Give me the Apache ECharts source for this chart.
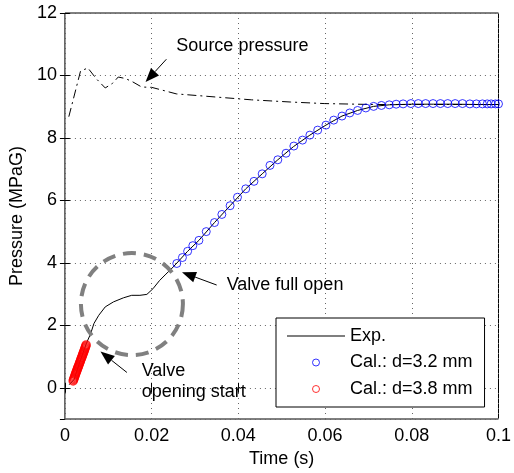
<!DOCTYPE html>
<html>
<head>
<meta charset="utf-8">
<script src="https://cdn.jsdelivr.net/npm/echarts@6/dist/echarts.min.js"></script>
<style>
  html, body { margin: 0; padding: 0; background: #fff; }
  #main { width: 514px; height: 473px; }
</style>
</head>
<body>
<div id="main"></div>
<script>
// experiment (solid line)
const expT = [0.0010, 0.0021, 0.0035, 0.0050, 0.0059, 0.0067, 0.0078, 0.0093, 0.0112, 0.0135, 0.0154, 0.0173, 0.0189, 0.0203, 0.0218, 0.0233, 0.0245, 0.0256, 0.0283, 0.0309, 0.0345, 0.0381, 0.0417, 0.0455, 0.0491, 0.0527, 0.0565, 0.0602, 0.0639, 0.0675, 0.0712, 0.0748, 0.0800, 0.0850, 0.0900, 0.0950, 0.1000]
const expP = [0.10, 0.26, 0.85, 1.44, 1.72, 2.06, 2.32, 2.59, 2.75, 2.88, 2.96, 2.96, 2.99, 3.17, 3.43, 3.64, 3.80, 3.96, 4.37, 4.72, 5.29, 5.83, 6.37, 6.85, 7.30, 7.72, 8.09, 8.41, 8.70, 8.88, 9.01, 9.06, 9.08, 9.08, 9.08, 9.07, 9.07]

// source pressure (dash-dot)
const srcT = [0.0009, 0.0036, 0.0053, 0.0072, 0.0093, 0.0110, 0.0123, 0.0140, 0.0157, 0.0177, 0.0200, 0.0257, 0.0348, 0.0430, 0.0520, 0.0598, 0.0710, 0.0800, 0.0900, 0.1000]
const srcP = [8.68, 10.14, 10.24, 9.90, 9.60, 9.75, 9.95, 9.90, 9.79, 9.63, 9.62, 9.41, 9.31, 9.22, 9.15, 9.10, 9.07, 9.07, 9.07, 9.07]

// Cal.: d=3.2 mm (blue circles)
const blueT = [0.0258, 0.0271, 0.0283, 0.0295, 0.0309, 0.0326, 0.0345, 0.0362, 0.0381, 0.0398, 0.0417, 0.0436, 0.0455, 0.0473, 0.0491, 0.0510, 0.0528, 0.0548, 0.0565, 0.0583, 0.0602, 0.0620, 0.0639, 0.0657, 0.0675, 0.0694, 0.0712, 0.0730, 0.0748, 0.0764, 0.0780, 0.0798, 0.0815, 0.0832, 0.0849, 0.0866, 0.0883, 0.0900, 0.0917, 0.0934, 0.0949, 0.0963, 0.0974, 0.0983, 0.0993, 0.1000]
const blueP = [3.98, 4.17, 4.37, 4.55, 4.72, 5.00, 5.29, 5.55, 5.83, 6.10, 6.37, 6.61, 6.85, 7.12, 7.30, 7.51, 7.74, 7.93, 8.09, 8.25, 8.41, 8.57, 8.70, 8.80, 8.88, 8.96, 9.01, 9.04, 9.06, 9.08, 9.09, 9.10, 9.10, 9.10, 9.10, 9.10, 9.10, 9.10, 9.10, 9.09, 9.09, 9.09, 9.09, 9.09, 9.09, 9.09]

// Cal.: d=3.8 mm (red circles)
const redT = [0.0019, 0.0020, 0.0021, 0.0022, 0.0023, 0.0024, 0.0025, 0.0026, 0.0027, 0.0028, 0.0029, 0.0030, 0.0031, 0.0032, 0.0033, 0.0034, 0.0035, 0.0036, 0.0037, 0.0038, 0.0039, 0.0040, 0.0041, 0.0042, 0.0043, 0.0044, 0.0045, 0.0046, 0.0047, 0.0048, 0.0049]
const redP = [0.22, 0.26, 0.30, 0.34, 0.38, 0.42, 0.46, 0.50, 0.53, 0.57, 0.61, 0.65, 0.68, 0.72, 0.76, 0.80, 0.83, 0.87, 0.91, 0.95, 0.98, 1.02, 1.06, 1.10, 1.13, 1.17, 1.21, 1.25, 1.29, 1.33, 1.37]

const xTicks = [0, 0.02, 0.04, 0.06, 0.08, 0.1]

const zip = (a, b) => a.map((v, i) => [v, b[i]])
const FONT = '"Liberation Sans", Arial, sans-serif'

const chart = echarts.init(document.getElementById('main'))

const tickStyle = { show: true, inside: true, length: 5, lineStyle: { color: '#000' } }
const gridLine = { show: true, lineStyle: { color: '#666', type: [1, 4], width: 1 } }

chart.setOption({
  animation: false,
  backgroundColor: '#fff',
  grid: { left: 64, right: 11, top: 13, bottom: 51, show: true, borderColor: '#000', borderWidth: 1 },
  xAxis: [
    {
      type: 'value', min: xTicks[0], max: xTicks[xTicks.length - 1], interval: 0.02,
      position: 'bottom',
      axisLine: { show: false },
      axisTick: tickStyle,
      axisLabel: { color: '#000', fontSize: 18, fontFamily: FONT, margin: 8 },
      splitLine: gridLine,
      name: 'Time (s)', nameLocation: 'middle', nameGap: 31,
      nameTextStyle: { color: '#000', fontSize: 18, fontFamily: FONT }
    },
    {
      type: 'value', min: 0, max: 0.1, interval: 0.02, position: 'top',
      axisLine: { show: false }, axisTick: tickStyle, axisLabel: { show: false }, splitLine: { show: false }
    }
  ],
  yAxis: [
    {
      type: 'value', min: -1, max: 12, splitNumber: 6,
      position: 'left',
      axisLine: { show: false },
      axisTick: tickStyle,
      axisLabel: { color: '#000', fontSize: 18, fontFamily: FONT, margin: 8, showMinLabel: false },
      splitLine: gridLine,
      name: 'Pressure (MPaG)', nameLocation: 'middle', nameGap: 34,
      nameTextStyle: { color: '#000', fontSize: 18, fontFamily: FONT }
    },
    {
      type: 'value', min: -1, max: 12, splitNumber: 6, position: 'right',
      axisLine: { show: false }, axisTick: tickStyle, axisLabel: { show: false }, splitLine: { show: false }
    }
  ],
  legend: {
    left: 276, top: 318, orient: 'vertical',
    backgroundColor: '#fff', borderColor: '#000', borderWidth: 1,
    padding: [9, 12, 9, 11],
    itemWidth: 58, itemHeight: 7, itemGap: 8.5,
    textStyle: { color: '#000', fontSize: 18, fontFamily: FONT, lineHeight: 18 },
    data: [
      { name: 'Exp.', icon: 'path://M0,0H58V1H0Z', itemStyle: { color: '#000', borderWidth: 0 } },
      { name: 'Cal.: d=3.2 mm', icon: 'circle', itemStyle: { color: 'rgba(0,0,0,0)', borderColor: '#0000ff', borderWidth: 1 } },
      { name: 'Cal.: d=3.8 mm', icon: 'circle', itemStyle: { color: 'rgba(0,0,0,0)', borderColor: '#ff0000', borderWidth: 1 } }
    ],
    z: 10
  },
  series: [
    {
      name: 'Source pressure', type: 'line', symbol: 'none',
      lineStyle: { color: '#000', width: 1, type: [9, 4, 2, 4] },
      data: zip(srcT, srcP), z: 2
    },
    {
      name: 'Exp.', type: 'line', symbol: 'none',
      lineStyle: { color: '#000', width: 1 },
      itemStyle: { color: '#000' },
      data: zip(expT, expP), z: 3
    },
    {
      name: 'Cal.: d=3.2 mm', type: 'scatter', symbol: 'circle', symbolSize: 8,
      itemStyle: { color: 'rgba(0,0,0,0)', borderColor: '#0000ff', borderWidth: 1 },
      data: zip(blueT, blueP), z: 4
    },
    {
      name: 'Cal.: d=3.8 mm', type: 'scatter', symbol: 'circle', symbolSize: 8,
      itemStyle: { color: 'rgba(0,0,0,0)', borderColor: '#ff0000', borderWidth: 1.5 },
      data: zip(redT, redP), z: 4
    }
  ]
})

// annotations placed in data coordinates
const px = (t, p) => chart.convertToPixel({ xAxisIndex: 0, yAxisIndex: 0 }, [t, p])

function arrow(from, to) {
  const a = px(from[0], from[1])
  const b = px(to[0], to[1])
  const dx = b[0] - a[0], dy = b[1] - a[1]
  const len = Math.sqrt(dx * dx + dy * dy)
  const ux = dx / len, uy = dy / len
  const hl = 14, hw = 5.5
  const bx = b[0] - ux * hl, by = b[1] - uy * hl
  return [
    { type: 'line', shape: { x1: a[0], y1: a[1], x2: bx, y2: by }, style: { stroke: '#000', lineWidth: 1 }, z: 20 },
    {
      type: 'polygon',
      shape: { points: [[b[0], b[1]], [bx - uy * hw, by + ux * hw], [bx + uy * hw, by - ux * hw]] },
      style: { fill: '#000' }, z: 20
    }
  ]
}

function label(text, t, p) {
  const q = px(t, p)
  return {
    type: 'text', x: q[0], y: q[1], z: 20,
    style: { text: text, fill: '#000', font: '18px ' + FONT, verticalAlign: 'middle', align: 'left' }
  }
}

const c = px(0.01545, 2.68)
chart.setOption({
  graphic: [
    {
      type: 'circle', shape: { cx: c[0], cy: c[1], r: 51 }, z: 15,
      style: { fill: 'none', stroke: '#808080', lineWidth: 4, lineDash: [13, 8] }
    },
    label('Source pressure', 0.0257, 10.94),
    ...arrow([0.0234, 10.52], [0.0186, 9.79]),
    label('Valve full open', 0.0373, 3.29),
    ...arrow([0.0350, 3.29], [0.0270, 3.70]),
    label('Valve', 0.0177, 0.52),
    label('opening start', 0.0177, -0.14),
    ...arrow([0.0143, 0.49], [0.0082, 1.16])
  ]
})
</script>
</body>
</html>
